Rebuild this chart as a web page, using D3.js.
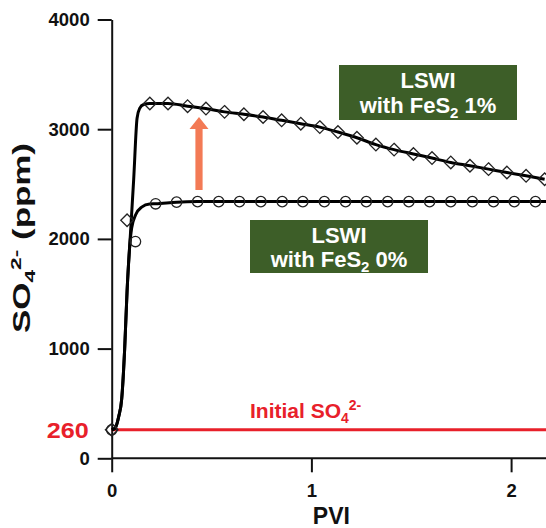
<!DOCTYPE html>
<html>
<head>
<meta charset="utf-8">
<script src="https://cdn.jsdelivr.net/npm/d3@7/dist/d3.min.js"></script>
<style>
  html, body { margin: 0; padding: 0; background: #fff; }
  svg { display: block; }
  text { font-family: "Liberation Sans", Arial, sans-serif; font-weight: bold; }
</style>
</head>
<body>
<svg id="chart" width="546" height="528"></svg>
<script>
// ---- data ----
const xTicks = [0, 1, 2];
const yTicks = [0, 1000, 2000, 3000, 4000];
const initialSO4 = 260;

// FeS2 1% (diamond markers)
const pvi1 = [0, 0.077, 0.191, 0.282, 0.380, 0.472, 0.565, 0.662, 0.758, 0.851, 0.947, 1.042, 1.133, 1.228, 1.323, 1.414, 1.511, 1.604, 1.698, 1.794, 1.887, 1.979, 2.075, 2.168];
const so4_1 = [260, 2170, 3234, 3234, 3210, 3188, 3158, 3136, 3111, 3081, 3050, 3019, 2974, 2922, 2860, 2814, 2774, 2737, 2697, 2667, 2636, 2605, 2575, 2544];

// FeS2 0% (circle markers)
const pvi0 = [0, 0.119, 0.220, 0.325, 0.430, 0.536, 0.640, 0.747, 0.854, 0.957, 1.065, 1.171, 1.275, 1.382, 1.488, 1.592, 1.698, 1.806, 1.912, 2.016, 2.122];
const so4_0 = [260, 1976, 2320, 2335, 2340, 2340, 2340, 2340, 2340, 2340, 2340, 2340, 2340, 2340, 2340, 2340, 2340, 2340, 2340, 2340, 2340];

// simulated curves (early rise), continued by marker data
const risePvi1 = [0, 0.017, 0.035, 0.05, 0.065, 0.077, 0.094, 0.11, 0.127, 0.14, 0.16];
const riseSo4_1 = [260, 275, 380, 540, 1000, 1525, 2050, 2540, 3100, 3190, 3225];
const risePvi0 = [0, 0.017, 0.035, 0.05, 0.065, 0.077, 0.09, 0.1, 0.12, 0.15, 0.19];
const riseSo4_0 = [260, 275, 380, 540, 1000, 1525, 1930, 2100, 2220, 2290, 2318];
const tailPvi0 = [2.25];
const tailSo4_0 = [2340];

// ---- chart ----
const svg = d3.select("#chart");
const x = d3.scaleLinear().domain([0, 2.1748]).range([111.7, 546]);
const y = d3.scaleLinear().domain([0, 4000]).range([458.3, 19.5]);

// axes
const yAxis = d3.axisLeft(y).tickValues(yTicks).tickSize(14).tickSizeOuter(0).tickPadding(8).tickFormat(d3.format("d"));
const gy = svg.append("g").attr("transform", `translate(${x(0)},0)`).call(yAxis);
const xAxis = d3.axisBottom(x).tickValues(xTicks).tickSize(14).tickSizeOuter(0).tickPadding(12).tickFormat(d3.format("d"));
const gx = svg.append("g").attr("transform", `translate(0,${y(0)})`).call(xAxis);
[gx, gy].forEach(g => {
  g.selectAll("path, line").attr("stroke", "#111").attr("stroke-width", 2);
  g.selectAll("text").attr("fill", "#111").style("font-size", "18.5px").style("font-weight", "bold")
    .style("font-family", '"Liberation Sans", Arial, sans-serif');
});
gx.select(".domain").attr("d", `M${x(0)},0H546`);

// initial line
svg.append("line")
  .attr("x1", x(0)).attr("x2", 546)
  .attr("y1", y(initialSO4)).attr("y2", y(initialSO4))
  .attr("stroke", "#e8202a").attr("stroke-width", 3);

svg.append("text").attr("x", x(0) - 23).attr("y", y(initialSO4) + 8)
  .attr("text-anchor", "end").attr("fill", "#e8202a").style("font-size", "22px")
  .attr("textLength", 42).attr("lengthAdjust", "spacingAndGlyphs")
  .text(initialSO4);

const initLbl = svg.append("text").attr("x", 250).attr("y", 418)
  .attr("fill", "#e8202a").style("font-size", "21px");
initLbl.append("tspan").text("Initial SO");
initLbl.append("tspan").attr("dy", 5).style("font-size", "14px").text("4");
initLbl.append("tspan").attr("dy", -13).style("font-size", "14px").text("2-");

// arrow
const ax = 199, aTop = 117, aHeadBase = 129, aBot = 190;
svg.append("path")
  .attr("d", `M${ax},${aTop} L${ax + 9.5},${aHeadBase} L${ax + 3.6},${aHeadBase} L${ax + 3.6},${aBot} L${ax - 3.6},${aBot} L${ax - 3.6},${aHeadBase} L${ax - 9.5},${aHeadBase} Z`)
  .attr("fill", "#f37a55");

// curves
const line = d3.line().x(d => x(d[0])).y(d => y(d[1])).curve(d3.curveMonotoneX);
const curve1 = risePvi1.map((p, i) => [p, riseSo4_1[i]]).concat(pvi1.slice(2).map((p, i) => [p, so4_1[i + 2]]));
const curve0 = risePvi0.map((p, i) => [p, riseSo4_0[i]]).concat(pvi0.slice(2).map((p, i) => [p, so4_0[i + 2]])).concat(tailPvi0.map((p, i) => [p, tailSo4_0[i]]));
svg.append("path").attr("d", line(curve0)).attr("fill", "none").attr("stroke", "#000").attr("stroke-width", 3);
svg.append("path").attr("d", line(curve1)).attr("fill", "none").attr("stroke", "#000").attr("stroke-width", 3);

// markers
svg.append("g").selectAll("circle").data(pvi0.map((p, i) => [p, so4_0[i]])).join("circle")
  .attr("cx", d => x(d[0])).attr("cy", d => y(d[1])).attr("r", 5.2)
  .attr("fill", "none").attr("stroke", "#222").attr("stroke-width", 1.3);
const dsz = 6.3;
svg.append("g").selectAll("path").data(pvi1.map((p, i) => [p, so4_1[i]])).join("path")
  .attr("d", d => { const cx = x(d[0]), cy = y(d[1]); return `M${cx},${cy - dsz}L${cx + dsz},${cy}L${cx},${cy + dsz}L${cx - dsz},${cy}Z`; })
  .attr("fill", "none").attr("stroke", "#222").attr("stroke-width", 1.3);

// annotation boxes
function box(x0, y0, w, h, pct, b1, b2) {
  svg.append("rect").attr("x", x0).attr("y", y0).attr("width", w).attr("height", h).attr("fill", "#3d5e28");
  const cx = x0 + w / 2;
  svg.append("text").attr("x", cx).attr("y", b1).attr("text-anchor", "middle").attr("fill", "#fff")
    .style("font-size", "22px").text("LSWI");
  const t = svg.append("text").attr("x", cx).attr("y", b2).attr("text-anchor", "middle").attr("fill", "#fff")
    .style("font-size", "22px");
  t.append("tspan").text("with FeS");
  t.append("tspan").attr("dy", 5).style("font-size", "15px").text("2");
  t.append("tspan").attr("dy", -5).text(" " + pct);
}
box(339, 65, 178, 55, "1%", 88, 113);
box(250, 220, 178, 53, "0%", 243, 267);

// axis titles
svg.append("text").attr("x", x(1.1)).attr("y", 524).attr("text-anchor", "middle")
  .attr("fill", "#111").style("font-size", "23px").text("PVI");

const yt = svg.append("text").attr("transform", "translate(30,238) rotate(-90)")
  .attr("text-anchor", "middle").attr("fill", "#111").style("font-size", "23px")
  .attr("textLength", 190).attr("lengthAdjust", "spacingAndGlyphs");
yt.append("tspan").text("SO");
yt.append("tspan").attr("dy", 5).style("font-size", "15px").text("4");
yt.append("tspan").attr("dy", -14).style("font-size", "15px").text("2-");
yt.append("tspan").attr("dy", 9).text(" (ppm)");
</script>
</body>
</html>
